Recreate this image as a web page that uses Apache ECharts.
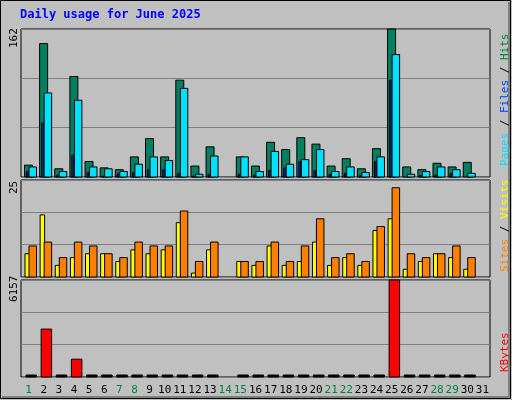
<!DOCTYPE html>
<html><head><meta charset="utf-8">
<script src="https://cdn.jsdelivr.net/npm/echarts@6/dist/echarts.min.js"></script>
<style>html,body{margin:0;padding:0;background:#c0c0c0}#chart{width:512px;height:400px}</style>
</head><body><div id="chart"></div>
<script>
// values
var days = ['1','2','3','4','5','6','7','8','9','10','11','12','13','14','15','16','17','18','19','20','21','22','23','24','25','26','27','28','29','30','31'];
var weekend = ['1','7','8','14','15','21','22','28','29'];
var hits  = [13,146,9,110,17,10,8,22,42,22,106,12,33,0,22,12,38,30,43,36,12,20,9,31,162,11,8,15,11,16,0];
var files = [11,92,6,84,11,9,6,14,22,18,97,3,23,0,22,6,28,14,19,30,6,11,5,22,134,3,6,11,8,4,0];
var pages = [6,59,2,24,5,1,4,5,8,8,4,1,3,0,3,2,7,10,17,7,3,4,2,17,106,0,2,2,4,0,0];
var visits = [6,16,3,5,6,6,4,7,6,7,14,1,7,0,4,3,8,3,4,9,3,5,3,12,15,2,4,6,5,2,0];
var sites  = [8,9,5,9,8,6,5,9,8,8,17,4,9,0,4,4,9,4,8,15,5,6,4,13,23,6,5,6,8,5,0];
var kbytes = [30,3040,30,1130,30,30,30,30,30,30,30,30,30,0,30,30,30,30,30,30,30,30,30,30,6157,30,30,30,30,30,0];

var mono = '"DejaVu Sans Mono", monospace';

function barSeries(data, grid, color, from, to, minH) {
  return {
    type: 'custom', xAxisIndex: grid, yAxisIndex: grid,
    data: data.map(function (v, i) { return [i, v]; }),
    renderItem: function (params, api) {
      var v = api.value(1);
      if (!v) return null;
      var base = api.coord([api.value(0), 0]);
      var top = api.coord([api.value(0), v]);
      var band = api.size([1, 0])[0];
      var x0 = base[0] - band / 2;
      var raw = base[1] - top[1];
      var h = Math.max(raw, minH || 0);
      var tiny = minH && raw < 3;
      return {
        type: 'rect',
        shape: { x: x0 + from, y: base[1] - h, width: to - from, height: h },
        style: { fill: tiny ? '#000' : color, stroke: '#000', lineWidth: 1 }
      };
    }
  };
}

function grid(top, h) { return { left: 21, right: 22, top: top, height: h, show: true, backgroundColor: '#c0c0c0', borderColor: '#000', borderWidth: 1 }; }
function xAx(i, show) {
  return {
    type: 'category', gridIndex: i, data: days, boundaryGap: true,
    axisLine: { show: false }, axisTick: { show: false },
    axisLabel: show ? {
      show: true, interval: 0, margin: 8, fontFamily: mono, fontSize: 11,
      formatter: function (d) { return weekend.indexOf(d) >= 0 ? '{w|' + d + '}' : '{n|' + d + '}'; },
      rich: { w: { color: '#008040', fontFamily: mono, fontSize: 11 }, n: { color: '#000', fontFamily: mono, fontSize: 11 } }
    } : { show: false }
  };
}
function yAx(i, max) {
  return {
    type: 'value', gridIndex: i, min: 0, max: max, interval: max / 3,
    axisLabel: { show: false }, axisLine: { show: false }, axisTick: { show: false },
    splitLine: { show: true, lineStyle: { color: '#808080', width: 1 } }
  };
}
function sideLabel(y, rich, text) {
  return { type: 'text', x: 500, y: y, rotation: Math.PI / 2,
    style: { text: text, rich: rich, fontFamily: mono, fontSize: 11 } };
}

var chart = echarts.init(document.getElementById('chart'));
chart.setOption({
  animation: false,
  backgroundColor: '#c0c0c0',
  grid: [grid(29, 148), grid(180, 97), grid(280, 97)],
  xAxis: [xAx(0, false), xAx(1, false), xAx(2, true)],
  yAxis: [yAx(0, 162), yAx(1, 25), yAx(2, 6157)],
  graphic: [
    { type: 'rect', shape: { x: 0.5, y: 0.5, width: 510, height: 398 }, style: { fill: null, stroke: '#000', lineWidth: 1 } },
    { type: 'rect', shape: { x: 2, y: 396, width: 508, height: 2 }, style: { fill: '#808080' } },
    { type: 'rect', shape: { x: 508, y: 2, width: 2, height: 396 }, style: { fill: '#808080' } },
    { type: 'text', x: 20, y: 9, style: { text: 'Daily usage for June 2025', fill: '#0000ff', fontFamily: mono, fontSize: 12, fontWeight: 'bold' } },
    { type: 'text', x: 9, y: 48, rotation: Math.PI / 2, style: { text: '162', fill: '#000', fontFamily: mono, fontSize: 11 } },
    { type: 'text', x: 9, y: 194, rotation: Math.PI / 2, style: { text: '25', fill: '#000', fontFamily: mono, fontSize: 11 } },
    { type: 'text', x: 9, y: 302, rotation: Math.PI / 2, style: { text: '6157', fill: '#000', fontFamily: mono, fontSize: 11 } },
    sideLabel(166, { p: { fill: '#00e0ff' }, s: { fill: '#000' }, f: { fill: '#0040ff' }, h: { fill: '#008040' } }, '{p|Pages}{s| / }{f|Files}{s| / }{h|Hits}'),
    sideLabel(272, { a: { fill: '#ff8000' }, s: { fill: '#000' }, b: { fill: '#ffff00' } }, '{a|Sites}{s| / }{b|Visits}'),
    sideLabel(372, { k: { fill: '#ff0000' } }, '{k|KBytes}')
  ],
  series: [
    barSeries(hits, 0, '#008060', 3.5, 11.5),
    barSeries(files, 0, '#00e0ff', 8, 15.5),
    barSeries(pages, 0, '#0040ff', 5.5, 7),
    barSeries(visits, 1, '#ffff00', 4, 8.5),
    barSeries(sites, 1, '#ff8000', 8, 15.5),
    barSeries(kbytes, 2, '#ff0000', 5, 15.5, 2)
  ]
});
</script></body></html>
